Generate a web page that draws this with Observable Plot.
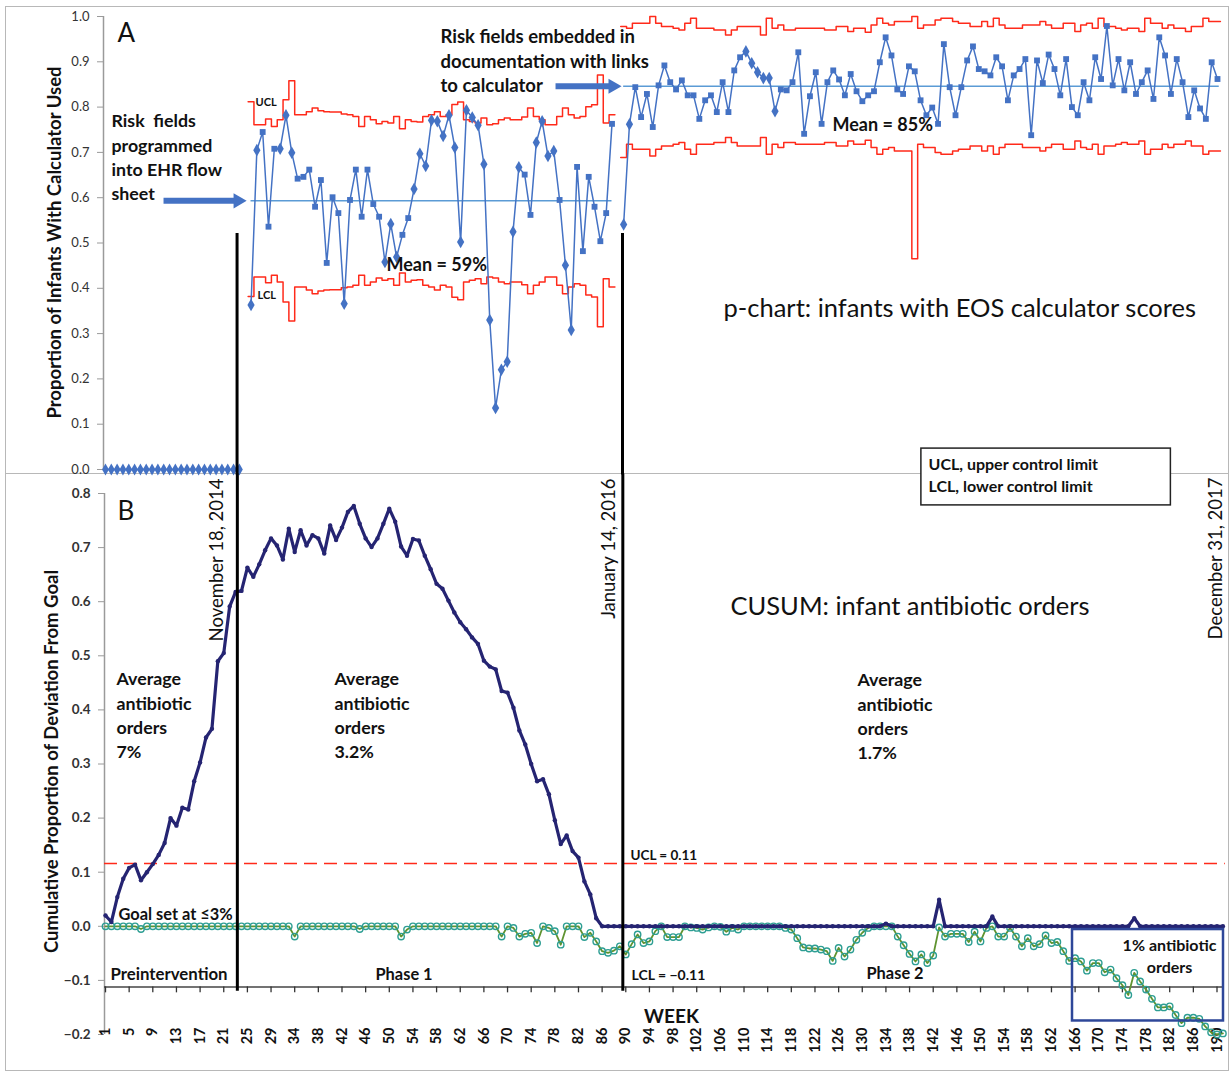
<!DOCTYPE html>
<html><head><meta charset="utf-8">
<script src="https://cdn.jsdelivr.net/npm/d3@7"></script>
<script src="https://cdn.jsdelivr.net/npm/@observablehq/plot@0.6"></script>
<style>
body{margin:0;background:#fff;}
#wrap{position:relative;width:1232px;height:1073px;overflow:hidden;background:#fff;}
#wrap svg{position:absolute;left:0;overflow:visible;}
.frame{position:absolute;left:5px;top:6px;width:1222px;height:1063px;border:1.5px solid #b8b8b8;}
.divider{position:absolute;left:5px;top:473px;width:1224px;height:0;border-top:1.5px solid #b8b8b8;}
</style></head>
<body><div id="wrap"><div class="frame"></div><div class="divider"></div></div>
<script>
// ---------------- DATA ----------------
const weekTickLabels = [1,5,9,13,17,21,25,29,34,38,42,46,50,54,58,62,66,70,74,78,82,86,90,94,98,102,106,110,114,118,122,126,130,134,138,142,146,150,154,158,162,166,170,174,178,182,186,190];
const yTicksA = [0,0.1,0.2,0.3,0.4,0.5,0.6,0.7,0.8,0.9,1.0];
const yTicksB = [-0.2,-0.1,0,0.1,0.2,0.3,0.4,0.5,0.6,0.7,0.8];

// p-chart (panel A)
const preValues = [0,0,0,0,0,0,0,0,0,0,0,0,0,0,0,0,0,0,0,0,0,0,0,0];
const phase1Start = 25;
const phase1Values = [0.363,0.705,0.745,0.536,0.708,0.708,0.782,0.699,0.642,0.646,
0.662,0.580,0.639,0.456,0.601,0.566,0.366,0.595,0.662,0.558,
0.662,0.586,0.558,0.458,0.542,0.469,0.518,0.555,0.619,0.697,
0.670,0.771,0.769,0.736,0.782,0.711,0.502,0.793,0.777,0.760,
0.674,0.330,0.136,0.220,0.238,0.525,0.667,0.651,0.562,0.722,
0.769,0.692,0.703,0.595,0.451,0.308,0.668,0.482,0.646,0.580,
0.504,0.566,0.763];
const phase1Diamonds = [0,1,5,6,7,16,23,24,25,28,29,30,31,32,33,34,35,36,37,38,39,40,41,42,43,44,45,46,49,50,51,52,54,55];
const phase1Ucl = [0.812,0.761,0.761,0.774,0.757,0.772,0.816,0.858,0.783,0.783,
0.790,0.798,0.792,0.790,0.789,0.789,0.785,0.783,0.779,0.757,
0.779,0.772,0.763,0.768,0.765,0.779,0.752,0.772,0.768,0.767,
0.779,0.783,0.790,0.779,0.783,0.806,0.811,0.772,0.768,0.765,
0.776,0.761,0.763,0.772,0.776,0.772,0.772,0.778,0.798,0.779,
0.772,0.761,0.761,0.779,0.798,0.783,0.776,0.779,0.801,0.805,
0.871,0.765,0.783];
const phase1Lcl = [0.382,0.425,0.425,0.412,0.429,0.414,0.370,0.328,0.403,0.403,
0.396,0.388,0.394,0.396,0.397,0.397,0.401,0.403,0.407,0.429,
0.407,0.414,0.423,0.418,0.421,0.407,0.434,0.414,0.418,0.419,
0.407,0.403,0.396,0.407,0.403,0.380,0.375,0.414,0.418,0.421,
0.410,0.425,0.423,0.414,0.410,0.414,0.414,0.408,0.388,0.407,
0.414,0.425,0.425,0.407,0.388,0.403,0.410,0.407,0.385,0.381,
0.315,0.421,0.403];
const phase1Mean = 0.593;

const phase2Start = 89;
const phase2Values = [0.541,0.762,0.844,0.778,0.829,0.756,0.848,0.892,0.855,0.839,
0.859,0.826,0.826,0.774,0.815,0.826,0.789,0.855,0.789,0.881,
0.910,0.923,0.897,0.877,0.864,0.864,0.791,0.839,0.837,0.855,
0.921,0.741,0.824,0.877,0.763,0.855,0.881,0.861,0.826,0.873,
0.835,0.813,0.826,0.835,0.899,0.954,0.914,0.839,0.829,0.890,
0.879,0.815,0.782,0.799,0.763,0.939,0.844,0.782,0.844,0.903,
0.934,0.884,0.879,0.870,0.910,0.890,0.815,0.870,0.884,0.906,
0.738,0.903,0.853,0.916,0.884,0.826,0.906,0.800,0.782,0.855,
0.815,0.910,0.862,0.979,0.848,0.906,0.837,0.899,0.829,0.855,
0.881,0.818,0.954,0.914,0.829,0.906,0.855,0.778,0.837,0.797,
0.774,0.899,0.862];
const phase2Diamonds = [0,1,21,22,23,24,25,26];
const phase2Ucl = [0.978,0.974,0.985,0.985,0.985,1.0,0.985,0.978,0.978,0.974,
0.970,0.985,0.996,0.974,0.974,0.974,0.970,0.970,0.959,0.970,
0.978,0.978,0.978,0.978,0.959,0.996,0.974,0.981,0.970,0.970,
0.974,0.974,0.974,0.974,0.974,0.970,0.970,0.978,0.978,0.967,
0.974,0.974,0.965,0.981,0.996,0.985,0.981,0.989,0.989,0.989,
1.0,0.974,0.981,0.981,0.992,0.996,0.996,0.989,0.985,0.985,
0.978,0.978,0.989,0.978,0.996,0.981,0.974,0.974,0.974,0.981,
0.981,0.981,0.989,0.981,0.974,0.974,0.985,0.985,0.967,0.981,
0.985,0.974,0.996,0.978,0.978,0.974,0.970,0.974,0.974,0.967,
0.996,0.985,0.985,0.974,0.981,0.974,0.974,0.967,0.978,0.978,
0.996,0.989,0.989];
const phase2Lcl = [0.689,0.718,0.707,0.707,0.707,0.692,0.707,0.714,0.714,0.718,
0.722,0.707,0.696,0.718,0.718,0.718,0.722,0.722,0.733,0.722,
0.714,0.714,0.714,0.714,0.733,0.696,0.718,0.711,0.722,0.722,
0.718,0.718,0.718,0.718,0.718,0.722,0.722,0.714,0.714,0.725,
0.718,0.718,0.727,0.711,0.696,0.707,0.711,0.703,0.703,0.703,
0.465,0.718,0.711,0.711,0.700,0.696,0.696,0.703,0.707,0.707,
0.714,0.714,0.703,0.714,0.696,0.711,0.718,0.718,0.718,0.711,
0.711,0.711,0.703,0.711,0.718,0.718,0.707,0.707,0.725,0.711,
0.707,0.718,0.696,0.714,0.714,0.718,0.722,0.718,0.718,0.725,
0.696,0.707,0.707,0.718,0.711,0.718,0.718,0.725,0.714,0.714,
0.696,0.703,0.703];
const phase2Mean = 0.846;

// CUSUM (panel B), one value per week category
const cusumUpper = [0.020,0.008,0.054,0.088,0.108,0.114,0.085,0.100,0.115,0.132,
0.154,0.200,0.186,0.219,0.216,0.268,0.303,0.349,0.365,0.490,
0.505,0.591,0.618,0.620,0.663,0.646,0.669,0.695,0.717,0.704,
0.678,0.735,0.692,0.732,0.704,0.723,0.717,0.689,0.741,0.714,
0.737,0.766,0.777,0.744,0.717,0.701,0.717,0.744,0.772,0.748,
0.702,0.685,0.716,0.713,0.685,0.660,0.633,0.624,0.602,0.580,
0.562,0.549,0.534,0.522,0.491,0.480,0.475,0.435,0.432,0.404,
0.362,0.336,0.300,0.268,0.272,0.244,0.196,0.152,0.168,0.139,
0.127,0.083,0.059,0.015,0,0,0,0,0,0,
0,0,0,0,0,0,0,0,0,0,
0,0,0,0,0,0,0,0,0,0,
0,0,0,0,0,0,0,0,0,0,
0,0,0,0,0,0,0,0,0,0,
0,0,0.005,0,0,0,0,0,0,0,
0,0.049,0,0,0,0,0,0,0,0,
0.018,0,0,0,0,0,0,0,0,0,
0,0,0,0,0,0,0,0,0,0,
0,0,0,0,0.015,0,0,0,0,0,
0,0,0,0,0,0,0,0,0,0];
const cusumLower = [0,0,0,0,0,0,-0.005,0,0,0,
0,0,0,0,0,0,0,0,0,0,
0,0,0,0,0,0,0,0,0,0,
0,0,-0.019,0,0,0,0,0,0,0,
0,0,0,-0.005,0,0,0,0,0,0,
-0.019,-0.006,0,0,0,0,0,0,0,0,
0,0,0,0,0,0,0,-0.019,0,-0.003,
-0.019,-0.014,-0.012,-0.031,0,-0.003,-0.009,-0.034,0,0,
0,-0.020,-0.012,-0.028,-0.046,-0.049,-0.045,-0.037,-0.052,-0.033,
-0.015,-0.031,-0.028,-0.009,0,-0.020,-0.020,-0.020,0,-0.002,
-0.003,-0.006,-0.002,0,-0.001,-0.010,-0.003,-0.006,0,0,
0,0,0,0,0,-0.003,-0.006,-0.022,-0.039,-0.041,
-0.041,-0.043,-0.046,-0.064,-0.040,-0.056,-0.043,-0.025,-0.012,-0.003,
0,0,0,0,-0.019,-0.035,-0.051,-0.065,-0.052,-0.068,
-0.054,-0.002,-0.019,-0.014,-0.014,-0.014,-0.029,-0.010,-0.028,-0.003,
0,-0.019,-0.019,-0.003,-0.019,-0.037,-0.022,-0.037,-0.033,-0.017,
-0.031,-0.029,-0.046,-0.064,-0.059,-0.065,-0.082,-0.068,-0.068,-0.085,
-0.080,-0.096,-0.109,-0.127,-0.086,-0.102,-0.117,-0.134,-0.150,-0.150,
-0.148,-0.164,-0.179,-0.169,-0.169,-0.171,-0.185,-0.196,-0.200,-0.198];
const cusumUcl = 0.116;
const cusumLcl = -0.112;

// event lines (category position in each panel)
const events = [
  {label: "November 18, 2014", kA: 22.6, iB: 22.3},
  {label: "January 14, 2016", kA: 88.8, iB: 87.5}
];

// ---------------- DRAW ----------------
const FONT = "Lato, 'Open Sans', sans-serif";
const blue = "#4472C4", meanBlue = "#5B9BD5", red = "#FF2A1A", navy = "#252472", green = "#5F9330", teal = "#2D9E93";
const wrap = document.getElementById("wrap");

function stepRows(values, start) {
  const rows = values.map((v, j) => ({k: start + j - 0.5, v}));
  rows.push({k: start + values.length - 0.5, v: values[values.length - 1]});
  return rows;
}
const pointRows = (values, start, diamonds) => values.map((v, j) => ({k: start + j, v, d: diamonds.includes(j)}));
const preRows = preValues.map((v, j) => ({k: j, v}));
const p1Rows = pointRows(phase1Values, phase1Start, phase1Diamonds);
const p2Rows = pointRows(phase2Values, phase2Start, phase2Diamonds);

function label(text, dx, dy, opts = {}) {
  return Plot.text([text], {frameAnchor: "top-left", dx, dy, text: d => d, textAnchor: "start",
    lineAnchor: "middle", fontFamily: FONT, fill: "#111", fontSize: 16, ...opts});
}
const bold = {fontWeight: "bold"};

const arrowsA = [
  {x1: 9.97, x2: 22.2, head: 22.75, y: phase1Mean},
  {x1: 77.3, x2: 86.7, head: 87.15, y: phase2Mean}
];

const chartA = Plot.plot({
  width: 1232, height: 474, marginLeft: 103, marginRight: 15, marginTop: 16, marginBottom: 5,
  x: {domain: [-0.34, 191], axis: null},
  y: {domain: [0, 1], axis: null},
  style: {fontFamily: FONT, background: "transparent", overflow: "visible"},
  marks: [
    Plot.ruleX([-0.34], {y1: 0, y2: 1, stroke: "#9a9a9a", strokeWidth: 1.5}),
    Plot.axisY({ticks: yTicksA, tickFormat: d => d.toFixed(1), tickSize: 6, tickPadding: 8,
      fontSize: 13, color: "#333", stroke: "#9a9a9a", label: null}),
    // control limits
    Plot.line(stepRows(phase1Ucl, phase1Start), {x: "k", y: "v", curve: "step-after", stroke: red, strokeWidth: 1.5}),
    Plot.line(stepRows(phase1Lcl, phase1Start), {x: "k", y: "v", curve: "step-after", stroke: red, strokeWidth: 1.5}),
    Plot.line(stepRows(phase2Ucl, phase2Start), {x: "k", y: "v", curve: "step-after", stroke: red, strokeWidth: 1.5}),
    Plot.line(stepRows(phase2Lcl, phase2Start), {x: "k", y: "v", curve: "step-after", stroke: red, strokeWidth: 1.5}),
    // means
    Plot.ruleY([phase1Mean], {x1: phase1Start, x2: phase1Start + phase1Values.length - 1, stroke: meanBlue, strokeWidth: 1.5}),
    Plot.ruleY([phase2Mean], {x1: phase2Start, x2: phase2Start + phase2Values.length - 0.7, stroke: meanBlue, strokeWidth: 1.5}),
    // data
    Plot.line(preRows, {x: "k", y: "v", stroke: blue, strokeWidth: 1.5}),
    Plot.dot(preRows, {x: "k", y: "v", symbol: "diamond", r: 3.6, fill: blue}),
    Plot.line(p1Rows, {x: "k", y: "v", stroke: blue, strokeWidth: 1.5}),
    Plot.line(p2Rows, {x: "k", y: "v", stroke: blue, strokeWidth: 1.5}),
    Plot.dot(p1Rows.concat(p2Rows).filter(d => d.d), {x: "k", y: "v", symbol: "diamond", r: 3.8, fill: blue}),
    Plot.dot(p1Rows.concat(p2Rows).filter(d => !d.d), {x: "k", y: "v", symbol: "square", r: 3.3, fill: blue}),
    // event lines
    Plot.ruleX(events, {x: "kA", y1: 0.521, y2: -0.012, stroke: "#000", strokeWidth: 3}),
    // arrows
    Plot.link(arrowsA, {x1: "x1", x2: "x2", y1: "y", y2: "y", stroke: blue, strokeWidth: 6}),
    Plot.dot(arrowsA, {x: "head", y: "y", symbol: "triangle", r: 5.6, rotate: 90, fill: blue}),
    // texts
    label("A", 14, 17, {fontSize: 26}),
    label("Risk  fields\nprogrammed\ninto EHR flow\nsheet", 8, 139.5, {...bold, fontSize: 17.8, lineHeight: 1.37}),
    label("Risk fields embedded in\ndocumentation with links\nto calculator", 337, 43, {...bold, fontSize: 18.5, lineHeight: 1.35}),
    label("UCL", 152, 86, {...bold, fontSize: 11}),
    label("LCL", 154, 279, {...bold, fontSize: 11}),
    label("Mean = 59%", 283, 249, {...bold, fontSize: 18}),
    label("Mean = 85%", 729, 109, {...bold, fontSize: 18}),
    label("p-chart: infants with EOS calculator scores", 620, 292, {fontSize: 25.5}),
    label("Proportion of Infants With Calculator Used", -48, 226, {fontSize: 18.5, fontWeight: "bold", rotate: -90, textAnchor: "middle"})
  ]
});
chartA.style.top = "0px";
wrap.appendChild(chartA);

const upperRows = cusumUpper.map((v, i) => ({i, v}));
const lowerRows = cusumLower.map((v, i) => ({i, v}));
const tickRows = weekTickLabels.map((w, j) => ({i: j * 4, w}));

const chartB = Plot.plot({
  width: 1232, height: 599, marginLeft: 104, marginRight: 15.5, marginTop: 19, marginBottom: 39,
  x: {domain: [-0.17, 188], axis: null},
  y: {domain: [-0.2, 0.8], axis: null},
  style: {fontFamily: FONT, background: "transparent", overflow: "visible"},
  marks: [
    Plot.ruleX([-0.17], {y1: -0.2, y2: 0.8, stroke: "#9a9a9a", strokeWidth: 1.5}),
    Plot.axisY({ticks: yTicksB, tickFormat: d => (d < 0 ? "\u2212" + Math.abs(d).toFixed(1) : d.toFixed(1)),
      tickSize: 6, tickPadding: 8, fontSize: 13.5, fontWeight: "bold", color: "#333", stroke: "#9a9a9a", label: null}),
    // week axis at LCL
    Plot.ruleY([cusumLcl], {x1: -0.17, x2: 189.2, stroke: "#444", strokeWidth: 1.5}),
    Plot.ruleX(tickRows, {x: "i", y1: cusumLcl, y2: cusumLcl - 0.011, stroke: "#333", strokeWidth: 1.3}),
    Plot.text(tickRows, {x: "i", y: -0.187, text: d => String(d.w), rotate: -90, textAnchor: "end",
      lineAnchor: "middle", fontSize: 14.5, fontWeight: "bold", fill: "#111", fontFamily: FONT}),
    // UCL dashed
    Plot.ruleY([cusumUcl], {x1: -0.17, x2: 189.4, stroke: red, strokeWidth: 1.5, strokeDasharray: "13,7"}),
    // lower CUSUM
    Plot.line(lowerRows, {x: "i", y: "v", stroke: green, strokeWidth: 1.8}),
    Plot.dot(lowerRows, {x: "i", y: "v", r: 3.2, stroke: teal, strokeWidth: 1.4, fill: "none"}),
    // upper CUSUM
    Plot.line(upperRows, {x: "i", y: "v", stroke: navy, strokeWidth: 3.2}),
    Plot.dot(upperRows, {x: "i", y: "v", r: 2.2, fill: navy}),
    // event lines
    Plot.ruleX(events, {x: "iB", y1: 0.836, y2: -0.12, stroke: "#000", strokeWidth: 3}),
    // 1% box
    Plot.rect([{x1: 163.56, x2: 189.1, y1: -0.006, y2: -0.175}], {x1: "x1", x2: "x2", y1: "y1", y2: "y2",
      fill: "none", stroke: "#2E4799", strokeWidth: 2.5}),
    // legend box
    Plot.rect([{x1: 138.0, x2: 180.2, y1: 0.883, y2: 0.778}], {x1: "x1", x2: "x2", y1: "y1", y2: "y2",
      fill: "white", stroke: "#222", strokeWidth: 1.5}),
    label("UCL, upper control limit\nLCL, lower control limit", 824, -20, {...bold, fontSize: 16, lineHeight: 1.38}),
    // texts
    label("B", 13, 18, {fontSize: 26}),
    label("November 18, 2014", 113, -15, {fontSize: 18.5, rotate: -90, textAnchor: "end"}),
    label("January 14, 2016", 505, -15, {fontSize: 18.5, rotate: -90, textAnchor: "end"}),
    label("December 31, 2017", 1112, -16, {fontSize: 18.5, rotate: -90, textAnchor: "end"}),
    label("Average\nantibiotic\norders\n7%", 12, 220.5, {...bold, fontSize: 17.8, lineHeight: 1.37}),
    label("Average\nantibiotic\norders\n3.2%", 230, 220.5, {...bold, fontSize: 17.8, lineHeight: 1.37}),
    label("Average\nantibiotic\norders\n1.7%", 753, 221.5, {...bold, fontSize: 17.8, lineHeight: 1.37}),
    label("CUSUM: infant antibiotic orders", 626, 113, {fontSize: 25.5}),
    label("Goal set at \u22643%", 14, 421, {...bold, fontSize: 16.4}),
    label("Preintervention", 6, 481, {...bold, fontSize: 16.8}),
    label("Phase 1", 271, 481, {...bold, fontSize: 16.4}),
    label("Phase 2", 762, 480, {...bold, fontSize: 16.4}),
    label("UCL = 0.11", 526, 362, {...bold, fontSize: 13.5}),
    label("LCL = \u22120.11", 527, 482, {...bold, fontSize: 14}),
    label("WEEK", 567, 523, {...bold, fontSize: 19, textAnchor: "middle"}),
    label("1% antibiotic\norders", 1065, 461, {...bold, fontSize: 16, lineHeight: 1.38, textAnchor: "middle"}),
    label("Cumulative Proportion of Deviation From Goal", -52, 268, {fontSize: 18.5, fontWeight: "bold", rotate: -90, textAnchor: "middle"})
  ]
});
chartB.style.top = "474px";
wrap.appendChild(chartB);
</script>
</body></html>
